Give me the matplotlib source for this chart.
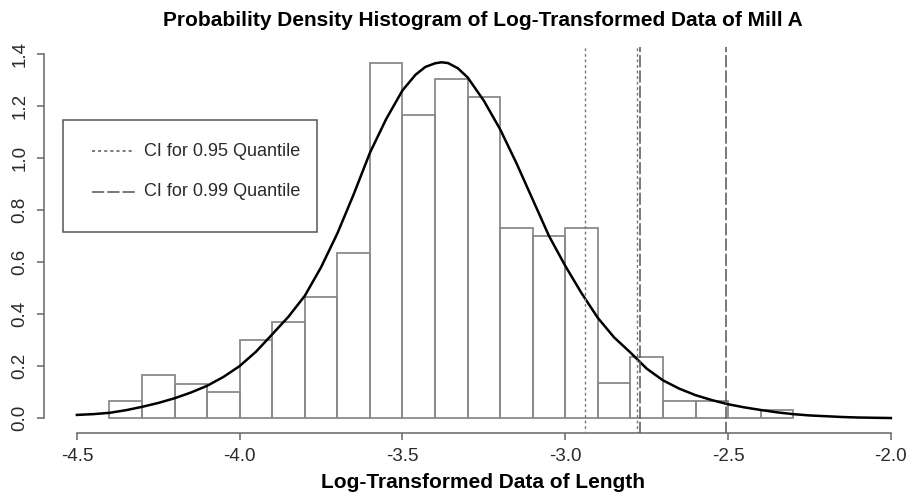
import numpy as np
import matplotlib
matplotlib.use("Agg")
import matplotlib.pyplot as plt
from matplotlib.patches import Rectangle
from matplotlib.lines import Line2D

plt.rcParams['font.family'] = ['Liberation Sans', 'DejaVu Sans']

# histogram (bin left edges, width 0.1) and densities
bin_left = [-4.4, -4.3, -4.2, -4.1, -4.0, -3.9, -3.8, -3.7, -3.6, -3.5, -3.4,
            -3.3, -3.2, -3.1, -3.0, -2.9, -2.8, -2.7, -2.6, -2.5, -2.4]
density = [0.065, 0.165, 0.13, 0.10, 0.30, 0.37, 0.465, 0.635, 1.367, 1.167, 1.303,
           1.236, 0.732, 0.70, 0.732, 0.133, 0.234, 0.066, 0.066, 0.0, 0.031]
bin_width = 0.1

# fitted density curve
curve_x = [-4.5, -4.45, -4.4, -4.35, -4.3, -4.25, -4.2, -4.15, -4.1, -4.05, -4.0,
           -3.95, -3.9, -3.85, -3.8, -3.75, -3.7, -3.65, -3.6, -3.55, -3.5,
           -3.46, -3.43, -3.4, -3.38, -3.36, -3.33, -3.3, -3.25, -3.2, -3.15, -3.1,
           -3.05, -3.0, -2.95, -2.9, -2.85, -2.8, -2.75, -2.7, -2.65, -2.6, -2.55,
           -2.5, -2.45, -2.4, -2.35, -2.3, -2.25, -2.2, -2.15, -2.1, -2.05, -2.0]
curve_y = [0.012, 0.015, 0.020, 0.030, 0.043, 0.058, 0.076, 0.098, 0.124, 0.158, 0.200,
           0.255, 0.322, 0.39, 0.47, 0.58, 0.71, 0.86, 1.02, 1.15, 1.26,
           1.32, 1.35, 1.364, 1.368, 1.365, 1.345, 1.31, 1.22, 1.11, 0.98, 0.84,
           0.70, 0.585, 0.48, 0.385, 0.31, 0.252, 0.19, 0.145, 0.113, 0.088, 0.069,
           0.053, 0.041, 0.031, 0.022, 0.015, 0.010, 0.007, 0.004, 0.002, 0.001, 0.0]

ci95 = [-2.938, -2.780]
ci99 = [-2.772, -2.506]

xticks = [-4.5, -4.0, -3.5, -3.0, -2.5, -2.0]
yticks = [0.0, 0.2, 0.4, 0.6, 0.8, 1.0, 1.2, 1.4]

W, H = 910, 495
fig = plt.figure(figsize=(W / 100, H / 100), dpi=100)
ax = fig.add_axes([44 / W, (H - 432.6) / H, 866 / W, 393.2 / H])

axis_col = '#666666'
text_col = '#2a2a2a'

ax.bar(bin_left, density, width=bin_width, align='edge', facecolor='none',
       edgecolor='#8a8a8a', linewidth=1.3, zorder=2)
ax.plot(curve_x, curve_y, color='black', linewidth=1.8, zorder=3)

ax.vlines(ci95, -0.06, 1.425, colors='#777777', linewidth=1.0,
          linestyles=[(0, (2, 2))], zorder=4)
ax.vlines(ci99, -0.06, 1.425, colors='#555555', linewidth=1.1,
          linestyles=[(0, (8, 2))], zorder=4)

ax.set_xlim(-4.601, -4.601 + 866 / 325.6)
ax.set_ylim(-0.056, 1.456)

for s in ['top', 'right']:
    ax.spines[s].set_visible(False)
ax.spines['left'].set_bounds(0, 1.4)
ax.spines['bottom'].set_bounds(-4.5, -2.0)
for s in ['left', 'bottom']:
    ax.spines[s].set_color(axis_col)
    ax.spines[s].set_linewidth(1.1)

ax.set_xticks(xticks)
ax.set_xticklabels(['%.1f' % v for v in xticks])
ax.set_yticks(yticks)
ax.set_yticklabels(['%.1f' % v for v in yticks], rotation=90, va='center')
ax.tick_params(axis='both', direction='out', length=5, width=1.1,
               color=axis_col, labelcolor=text_col, labelsize=13.5)
ax.tick_params(axis='x', pad=6)
ax.tick_params(axis='y', pad=6)

# legend box drawn in figure pixels like R's legend()
tr = fig.transFigure
box = Rectangle((63 / W, 1 - 232 / H), (317 - 63) / W, (232 - 120) / H,
                transform=tr, facecolor='white', edgecolor='#555555',
                linewidth=1.1, zorder=5)
fig.patches.append(box)
legend_rows = [('CI for 0.95 Quantile', (0, (2, 2)), 151),
               ('CI for 0.99 Quantile', (0, (8, 2)), 192)]
for label, ls, yy in legend_rows:
    fig.lines.append(Line2D([92 / W, 135 / W], [1 - yy / H, 1 - yy / H],
                            transform=tr, color='#555555', linewidth=1.1,
                            linestyle=ls, zorder=6))
    fig.text(144 / W, 1 - yy / H, label, fontsize=13, color=text_col,
             ha='left', va='center', zorder=6)

fig.text(483 / W, 1 - 20 / H, 'Probability Density Histogram of Log-Transformed Data of Mill A',
         fontsize=15, fontweight='bold', ha='center', va='center', color='black')
fig.text(483 / W, 1 - 483 / H, 'Log-Transformed Data of Length',
         fontsize=15, fontweight='bold', ha='center', va='center', color='black')

fig.savefig('out.png', dpi=100)
